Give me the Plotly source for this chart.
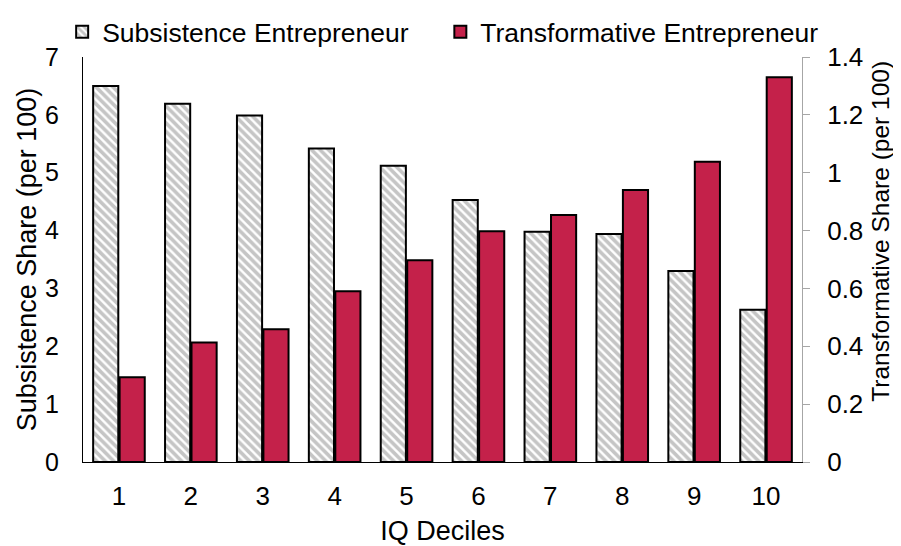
import plotly.graph_objects as go

deciles = ["1", "2", "3", "4", "5", "6", "7", "8", "9", "10"]
subsistence = [6.50, 6.19, 5.99, 5.42, 5.12, 4.53, 3.98, 3.94, 3.30, 2.63]
transformative = [0.293, 0.413, 0.459, 0.590, 0.697, 0.798, 0.854, 0.940, 1.038, 1.330]
left_ticks = [0, 1, 2, 3, 4, 5, 6, 7]
right_ticks = [0, 0.2, 0.4, 0.6, 0.8, 1.0, 1.2, 1.4]
right_ticklabels = ["0", "0.2", "0.4", "0.6", "0.8", "1", "1.2", "1.4"]

FONT = "Liberation Sans, Arial, sans-serif"

fig = go.Figure()
fig.add_trace(go.Bar(
    x=deciles, y=subsistence, name="Subsistence Entrepreneur",
    offsetgroup="1", yaxis="y", legend="legend",
    marker=dict(color="#999999",
                line=dict(color="black", width=2),
                pattern=dict(shape="\\", fgcolor="#8c8c8c", bgcolor="white",
                             size=6, solidity=0.6)),
))
fig.add_trace(go.Bar(
    x=deciles, y=transformative, name="Transformative Entrepreneur",
    offsetgroup="2", yaxis="y2", legend="legend2",
    marker=dict(color="#C4214A", line=dict(color="black", width=2)),
))

legend_common = dict(orientation="h", yanchor="top", xanchor="left",
                     xref="paper", yref="paper",
                     font=dict(size=26.5, family=FONT), itemwidth=30,
                     bgcolor="rgba(0,0,0,0)")

fig.update_layout(
    width=893, height=538,
    margin=dict(l=75, r=99, t=49, b=84, autoexpand=False),
    paper_bgcolor="white", plot_bgcolor="white",
    font=dict(family=FONT, color="black", size=25),
    barmode="group", bargap=0.264, bargroupgap=0.05,
    showlegend=True,
    legend=dict(legend_common, x=-0.029, y=1.121),
    legend2=dict(legend_common, x=0.497, y=1.121),
    xaxis=dict(
        type="category", showgrid=False, ticks="",
        showline=True, linecolor="black", linewidth=1,
        tickfont=dict(size=26, family=FONT), ticklabelstandoff=11,
        title=dict(text="IQ Deciles", font=dict(size=27, family=FONT), standoff=10),
    ),
    yaxis=dict(
        range=[0, 7], tickvals=left_ticks, showgrid=False, zeroline=False,
        showline=True, linecolor="black", linewidth=1, ticks="",
        tickfont=dict(size=25, family=FONT), ticklabelstandoff=18,
        title=dict(text="Subsistence Share (per 100)", font=dict(size=27, family=FONT), standoff=0),
    ),
    yaxis2=dict(
        range=[0, 1.4], tickvals=right_ticks, ticktext=right_ticklabels,
        overlaying="y", side="right", showgrid=False, zeroline=False,
        showline=True, linecolor="#A6A6A6", linewidth=1,
        ticks="outside", ticklen=7, tickcolor="#A6A6A6",
        tickfont=dict(size=26, family=FONT), ticklabelstandoff=12,
    ),
    annotations=[dict(
        text="Transformative Share (per 100)", textangle=-90,
        xref="paper", yref="paper", x=1.108, y=0.57,
        xanchor="center", yanchor="middle", showarrow=False,
        font=dict(size=24.5, family=FONT, color="black"),
    )],
)

fig.write_html("out.html")
